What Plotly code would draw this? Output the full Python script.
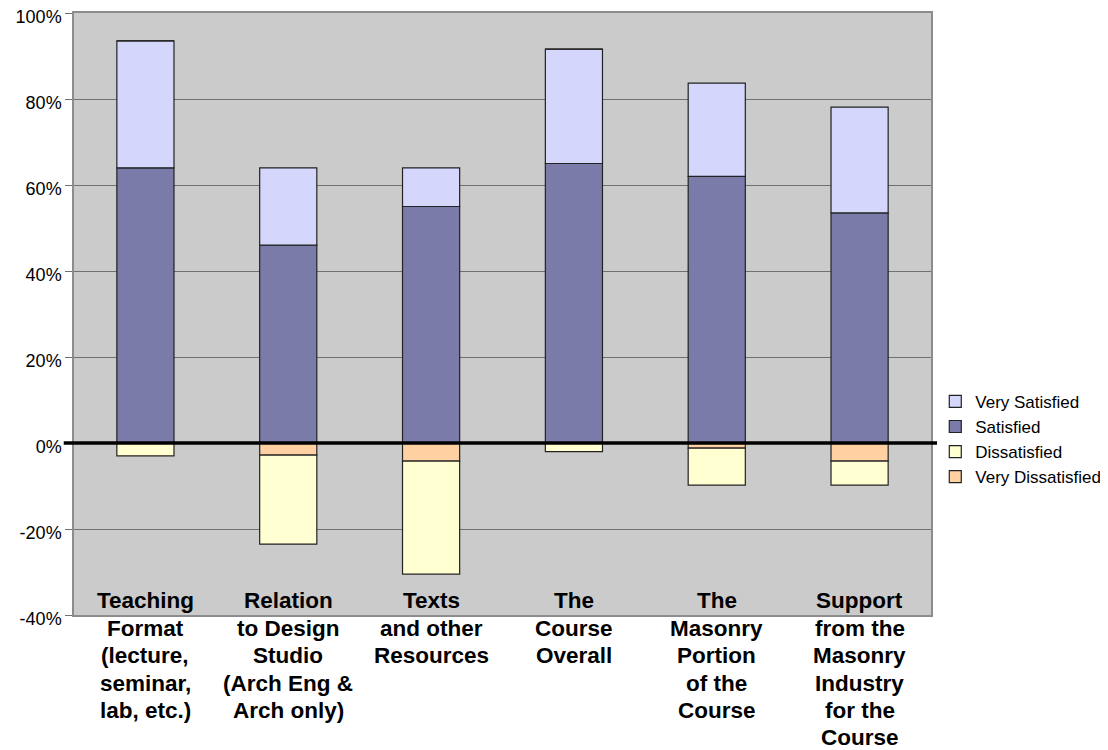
import plotly.graph_objects as go

categories = [
    "Teaching<br>Format<br>(lecture,<br>seminar,<br>lab, etc.)",
    "Relation<br>to Design<br>Studio<br>(Arch Eng &<br>Arch only)",
    "Texts<br>and other<br>Resources",
    "The<br>Course<br>Overall",
    "The<br>Masonry<br>Portion<br>of the<br>Course",
    "Support<br>from the<br>Masonry<br>Industry<br>for the<br>Course",
]
keys = ["teaching", "relation", "texts", "overall", "masonry", "support"]

# percentages (negative side drawn below zero)
very_satisfied = [29.5, 18.0, 9.0, 26.6, 21.7, 24.6]
satisfied = [64.0, 46.0, 55.0, 65.0, 62.0, 53.5]
dissatisfied = [3.0, 20.7, 26.3, 2.0, 8.6, 5.6]
very_dissatisfied = [0.0, 2.8, 4.2, 0.0, 1.2, 4.2]

y_ticks = [-40, -20, 0, 20, 40, 60, 80, 100]
y_tick_text = ["-40%", "-20%", "0%", "20%", "40%", "60%", "80%", "100%"]

colors = {
    "Very Satisfied": "#D4D6FC",
    "Satisfied": "#7B7BAA",
    "Dissatisfied": "#FFFFD2",
    "Very Dissatisfied": "#FFD0A2",
}

fig = go.Figure()

# trace order sets stacking: positives from zero upward, negatives from zero downward
series = [
    ("Satisfied", satisfied, 1, 2),
    ("Very Satisfied", very_satisfied, 1, 1),
    ("Very Dissatisfied", very_dissatisfied, -1, 4),
    ("Dissatisfied", dissatisfied, -1, 3),
]
for name, vals, sign, rank in series:
    fig.add_trace(go.Bar(
        x=keys,
        y=[sign * v for v in vals],
        name=name,
        legendrank=rank,
        width=0.4,
        marker=dict(color=colors[name], line=dict(color="#222222", width=1.2)),
    ))

# category labels sit inside the plot bottom and run below it;
# one annotation per line to get the tighter line spacing of the original
line_gap = 27.4
for k, label in zip(keys, categories):
    for i, line in enumerate(label.split("<br>")):
        fig.add_annotation(
            x=k, xref="x", y=0.0233, yref="paper", yanchor="middle",
            yshift=-line_gap * i,
            text="<b>" + line + "</b>", showarrow=False, align="center",
            font=dict(family="Arial, Liberation Sans", size=22.5, color="black"),
        )

# heavy zero line that pokes a little past the plot edges
fig.add_shape(type="line", xref="paper", yref="y", x0=-0.012, x1=1.007, y0=0, y1=0,
              line=dict(color="black", width=3.5))

# page body adds ~8px offset, so margins are shifted to compensate
fig.update_layout(
    width=1108, height=750,
    margin=dict(l=66, r=185, t=5, b=143, autoexpand=False),
    paper_bgcolor="white",
    plot_bgcolor="#CBCBCB",
    barmode="relative",
    font=dict(family="Arial, Liberation Sans", color="black"),
    legend=dict(
        x=1.005, y=0.384, xanchor="left", yanchor="top",
        font=dict(size=17), traceorder="normal", bgcolor="rgba(0,0,0,0)",
        itemwidth=30, tracegroupgap=0,
    ),
)
fig.update_xaxes(
    showticklabels=False, showgrid=False, automargin=False,
    showline=True, linecolor="#8C8C8C", linewidth=1.5, mirror=True,
    range=[-0.5, 5.5],
)
fig.update_yaxes(
    range=[-40, 100], tickvals=y_ticks, ticktext=y_tick_text,
    tickfont=dict(size=18), automargin=False, ticklabeloverflow="allow",
    ticklabelshift=4,
    showgrid=True, gridcolor="#707070", gridwidth=1.2,
    zeroline=False,
    ticks="outside", ticklen=7, tickcolor="#707070",
    showline=True, linecolor="#8C8C8C", linewidth=1.5, mirror=True,
)

fig.write_html("out.html")
